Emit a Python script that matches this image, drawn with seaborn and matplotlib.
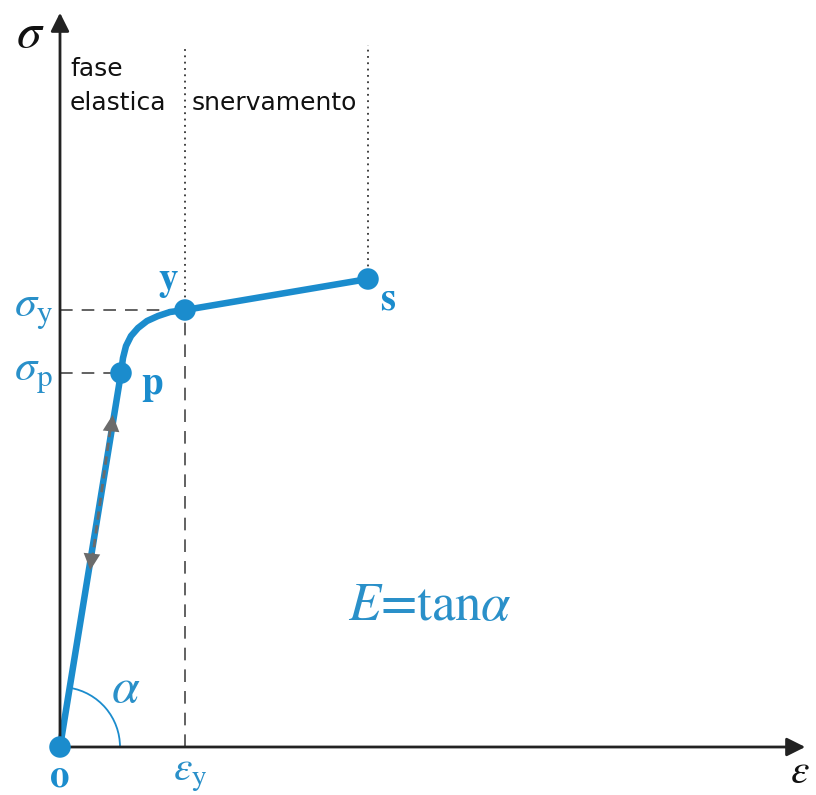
import matplotlib
matplotlib.use('Agg')
import matplotlib.pyplot as plt
import seaborn as sns
import pandas as pd
from matplotlib.patches import Arc

# Diagram data (strain / stress in arbitrary units, origin at point o)
curve_x = [0, 61, 63, 66, 71, 78, 87, 98, 110, 125, 308]
curve_y = [0, 374, 389, 401, 411, 419, 426, 431, 435, 437, 468]
point_names = ['o', 'p', 'y', 's']
point_x = [0, 61, 125, 308]
point_y = [0, 374, 437, 468]
eps_y = 125
sigma_y = 437
sigma_p = 374
top_guides = 702
elastic_arrow_down = (30, 174)
elastic_arrow_up = (53, 335)
alpha_deg = 80.7

blue = '#1b8ccd'
text_blue = '#2a90c9'

sns.set_theme(style='white')
plt.rcParams['mathtext.fontset'] = 'stix'

fig = plt.figure(figsize=(8.16, 7.95), dpi=100)
ax = fig.add_axes([0, 0, 1, 1])
ax.set_xlim(-60, 756)
ax.set_ylim(-48, 747)
ax.axis('off')

# guide lines
ax.plot([0, eps_y], [sigma_y, sigma_y], color='#555555', lw=1.3, dashes=(7, 5))
ax.plot([0, point_x[1]], [sigma_p, sigma_p], color='#555555', lw=1.3, dashes=(7, 5))
ax.plot([eps_y, eps_y], [0, sigma_y], color='#555555', lw=1.3, dashes=(7, 5))
ax.plot([eps_y, eps_y], [sigma_y, top_guides], color='#333333', lw=1.3, linestyle=(0, (1, 2.5)))
ax.plot([point_x[3], point_x[3]], [point_y[3], top_guides], color='#333333', lw=1.3, linestyle=(0, (1, 2.5)))

# axes arrows
ax.annotate('', xy=(0, 737), xytext=(0, 0),
            arrowprops=dict(arrowstyle='-|>', color='#222222', lw=2, mutation_scale=28))
ax.annotate('', xy=(748, 0), xytext=(0, 0),
            arrowprops=dict(arrowstyle='-|>', color='#222222', lw=2, mutation_scale=28))

# angle arc
ax.add_patch(Arc((0, 0), 120, 120, theta1=0, theta2=alpha_deg, color=blue, lw=1.3))

# stress-strain curve
df = pd.DataFrame({'strain': curve_x, 'stress': curve_y})
sns.lineplot(data=df, x='strain', y='stress', sort=False, color=blue, lw=4.7, ax=ax,
             solid_capstyle='round', solid_joinstyle='round')
pts = pd.DataFrame({'strain': point_x, 'stress': point_y, 'name': point_names})
sns.scatterplot(data=pts, x='strain', y='stress', color=blue, s=240, edgecolor='none',
                ax=ax, zorder=5)

# loading / unloading arrows on the elastic branch
ax.plot([elastic_arrow_down[0] + 2, elastic_arrow_up[0] - 2],
        [elastic_arrow_down[1] + 12, elastic_arrow_up[1] - 12],
        color='#6b6b6b', lw=2, dashes=(3, 2))
ax.annotate('', xy=elastic_arrow_up, xytext=(elastic_arrow_up[0] - 2, elastic_arrow_up[1] - 20),
            arrowprops=dict(arrowstyle='-|>', color='#6b6b6b', lw=0, mutation_scale=30))
ax.annotate('', xy=elastic_arrow_down, xytext=(elastic_arrow_down[0] + 2, elastic_arrow_down[1] + 20),
            arrowprops=dict(arrowstyle='-|>', color='#6b6b6b', lw=0, mutation_scale=30))

# labels
ax.text(-30, 714, r'$\sigma$', fontsize=36, color='#111111', ha='center', va='center')
ax.text(750, -24, r'$\varepsilon$', fontsize=30, color='#111111', ha='right', va='center')
ax.text(-27, 437, r'$\sigma_{\rm y}$', fontsize=32, color=text_blue, ha='center', va='center')
ax.text(-27, 372, r'$\sigma_{\rm p}$', fontsize=32, color=text_blue, ha='center', va='center')
ax.text(130, -26, r'$\varepsilon_{\rm y}$', fontsize=30, color=text_blue, ha='center', va='center')
ax.text(66, 59, r'$\alpha$', fontsize=36, color=text_blue, ha='center', va='center')
ax.text(370, 140, r'$E$=tan$\alpha$', fontsize=38, color=text_blue, ha='center', va='center',
        family='STIXGeneral')

bold_labels = {'o': (0, -30), 'p': (92, 362), 'y': (108, 466), 's': (328, 447)}
for name in point_names:
    lx, ly = bold_labels[name]
    ax.text(lx, ly, name, fontsize=28, fontweight='bold', color=blue, ha='center',
            va='center', family='STIXGeneral')

ax.text(10, 671, 'fase', fontsize=18, color='#111111', va='baseline', family='DejaVu Sans')
ax.text(10, 637, 'elastica', fontsize=18, color='#111111', va='baseline', family='DejaVu Sans')
ax.text(132, 637, 'snervamento', fontsize=18, color='#111111', va='baseline', family='DejaVu Sans')

fig.savefig('out.png', dpi=100, facecolor='white')
